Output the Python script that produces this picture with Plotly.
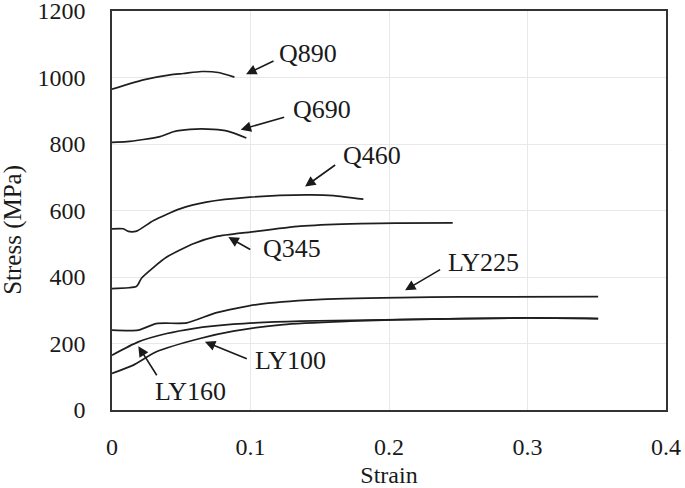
import plotly.graph_objects as go

# Strain / stress data
q890_strain = [0.0, 0.0226, 0.042, 0.0515, 0.0648, 0.0768, 0.0884]
q890_stress = [965, 993, 1008, 1012, 1018, 1015, 1001]

q690_strain = [0.0, 0.0106, 0.0347, 0.0443, 0.0563, 0.0732, 0.084, 0.097]
q690_stress = [805, 807, 822, 837, 844, 844, 838, 818]

q460_strain = [0.0, 0.0082, 0.0118, 0.0178, 0.030, 0.049, 0.068, 0.0996, 0.1406, 0.16, 0.1815]
q460_stress = [545, 545, 537, 538, 570, 605, 625, 640, 647, 645, 634]

q345_strain = [0.0, 0.0178, 0.0214, 0.0395, 0.0587, 0.0756, 0.0996, 0.136, 0.172, 0.208, 0.246]
q345_stress = [365, 372, 397, 460, 500, 522, 535, 553, 560, 562, 563]

ly225_strain = [0.0, 0.019, 0.032, 0.054, 0.0756, 0.1045, 0.148, 0.208, 0.251, 0.351]
ly225_stress = [240, 240, 260, 262, 293, 317, 332, 338, 340, 341]

ly160_strain = [0.0, 0.019, 0.0395, 0.0587, 0.0876, 0.136, 0.208, 0.3, 0.351]
ly160_stress = [165, 205, 230, 245, 258, 267, 272, 277, 275]

ly100_strain = [0.0, 0.0154, 0.032, 0.0635, 0.0876, 0.1237, 0.172, 0.208, 0.3, 0.351]
ly100_stress = [110, 135, 175, 215, 237, 257, 267, 272, 277, 275]

series = [
    ("Q890", q890_strain, q890_stress),
    ("Q690", q690_strain, q690_stress),
    ("Q460", q460_strain, q460_stress),
    ("Q345", q345_strain, q345_stress),
    ("LY225", ly225_strain, ly225_stress),
    ("LY160", ly160_strain, ly160_stress),
    ("LY100", ly100_strain, ly100_stress),
]

# Label annotations: text, text-left x/y, arrow tail x/y, arrow head x/y
labels = ["Q890", "Q690", "Q460", "Q345", "LY225", "LY100", "LY160"]
label_x = [0.1206, 0.1305, 0.1666, 0.109, 0.2426, 0.1032, 0.031]
label_y = [1072, 903, 765, 486, 445, 150, 57]
tail_x = [0.1177, 0.1254, 0.1622, 0.1009, 0.238, 0.0984, 0.033]
tail_y = [1052, 882, 740, 480, 425, 152, 100]
head_x = [0.0968, 0.0929, 0.1394, 0.084, 0.2116, 0.0671, 0.019]
head_y = [1010, 843, 672, 520, 360, 205, 192]

x_ticks = [0, 0.1, 0.2, 0.3, 0.4]
x_ticklabels = ["0", "0.1", "0.2", "0.3", "0.4"]
y_ticks = [0, 200, 400, 600, 800, 1000, 1200]

FONT = "Liberation Serif, Times New Roman, serif"

fig = go.Figure()
for name, xs, ys in series:
    fig.add_trace(go.Scatter(x=xs, y=ys, mode="lines", name=name,
                             line=dict(color="#1e1e1e", width=1.7, shape="spline", smoothing=0.6),
                             showlegend=False))

for t, lx, ly, tx, ty, hx, hy in zip(labels, label_x, label_y, tail_x, tail_y, head_x, head_y):
    fig.add_annotation(x=lx, y=ly, text=t, showarrow=False, xanchor="left", yanchor="middle",
                       xshift=-2, font=dict(family=FONT, size=26, color="#1a1a1a"))
    fig.add_annotation(x=hx, y=hy, ax=tx, ay=ty, xref="x", yref="y", axref="x", ayref="y",
                       text="", showarrow=True, arrowhead=2, arrowsize=1.3, arrowwidth=1.6,
                       arrowcolor="#1a1a1a")

# y-axis title placed as in the reference
fig.add_annotation(xref="paper", yref="paper", x=-0.178, y=0.4525, text="Stress (MPa)",
                   textangle=-90, showarrow=False, xanchor="center", yanchor="middle",
                   font=dict(family=FONT, size=25, color="#1a1a1a"))

fig.update_layout(
    width=685, height=488,
    margin=dict(l=112, r=19, t=11, b=78),
    paper_bgcolor="white", plot_bgcolor="white",
    font=dict(family=FONT, size=24, color="#1a1a1a"),
)
fig.update_xaxes(range=[0, 0.4], tickvals=x_ticks, ticktext=x_ticklabels,
                 showgrid=True, gridcolor="#e8e8e8", gridwidth=1,
                 showline=True, linecolor="#333333", linewidth=1.5, mirror=True,
                 zeroline=False, ticks="", ticklabelstandoff=14, automargin=False,
                 ticklabeloverflow="allow",
                 title=dict(text="Strain", font=dict(size=24), standoff=10))
fig.update_yaxes(range=[0, 1200], tickvals=y_ticks,
                 showgrid=True, gridcolor="#e8e8e8", gridwidth=1,
                 showline=True, linecolor="#333333", linewidth=1.5, mirror=True,
                 zeroline=False, ticks="", ticklabelstandoff=20, automargin=False,
                 ticklabeloverflow="allow")

fig.write_html("out.html", config={"displayModeBar": False},
               post_script="document.body.style.margin='0';document.body.style.padding='0';")
